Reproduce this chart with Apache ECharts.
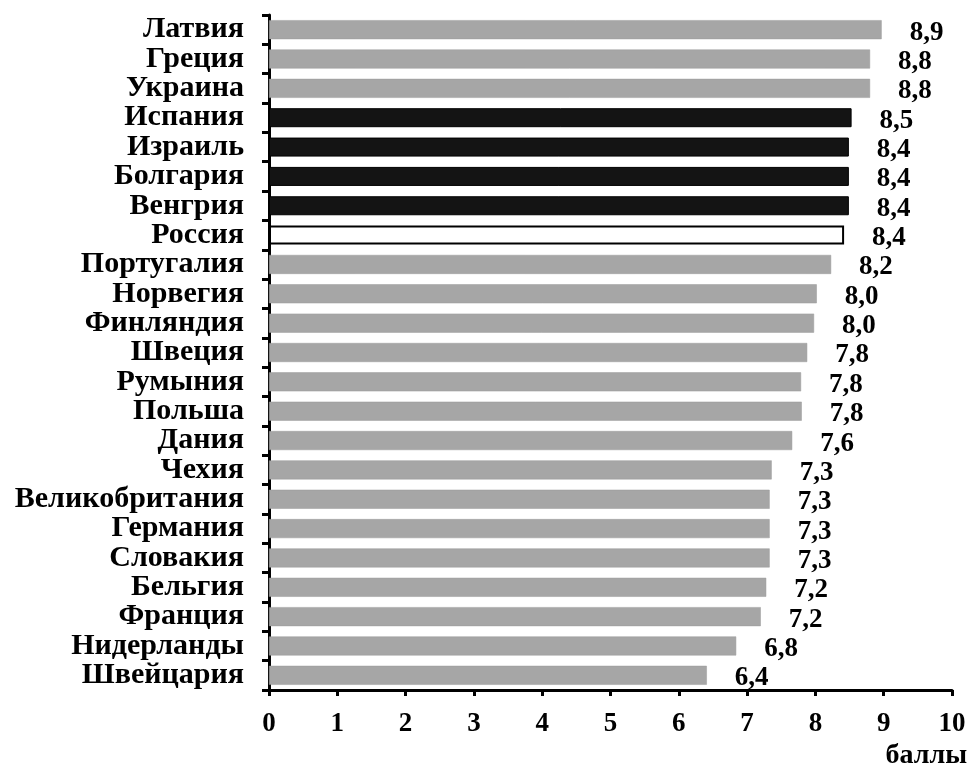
<!DOCTYPE html>
<html>
<head>
<meta charset="utf-8">
<script src="https://cdn.jsdelivr.net/npm/echarts@6/dist/echarts.min.js"></script>
<style>
html,body{margin:0;padding:0;background:#fff;}
#chart{width:974px;height:771px;}
</style>
</head>
<body>
<div id="chart"></div>
<script>
const categories = ['Латвия','Греция','Украина','Испания','Израиль','Болгария','Венгрия','Россия','Португалия','Норвегия','Финляндия','Швеция','Румыния','Польша','Дания','Чехия','Великобритания','Германия','Словакия','Бельгия','Франция','Нидерланды','Швейцария'];
const values = [8.97, 8.8, 8.8, 8.53, 8.49, 8.49, 8.49, 8.42, 8.23, 8.02, 7.98, 7.88, 7.79, 7.8, 7.66, 7.36, 7.33, 7.33, 7.33, 7.28, 7.2, 6.84, 6.41];
const valueLabels = ['8,9','8,8','8,8','8,5','8,4','8,4','8,4','8,4','8,2','8,0','8,0','7,8','7,8','7,8','7,6','7,3','7,3','7,3','7,3','7,2','7,2','6,8','6,4'];
const xTicks = [0,1,2,3,4,5,6,7,8,9,10];
const darkGroup = ['Испания','Израиль','Болгария','Венгрия'];
const whiteGroup = ['Россия'];
const unitLabel = 'баллы';

function styleFor(name){
  if (darkGroup.includes(name)) return {color:'#141414', borderColor:'#000', borderWidth:1};
  if (whiteGroup.includes(name)) return {color:'#ffffff', borderColor:'#000', borderWidth:2};
  return {color:'#a6a6a6', borderColor:'#9a9a9a', borderWidth:0.5};
}

const chart = echarts.init(document.getElementById('chart'), null, {renderer:'canvas'});
const serif = '"Liberation Serif", "DejaVu Serif", serif';
chart.setOption({
  animation:false,
  backgroundColor:'#fff',
  title:{
    text: unitLabel, right: 2, top: 737,
    textStyle:{fontFamily:serif, fontSize:28, fontWeight:'bold', color:'#000'}
  },
  grid:{left:269, right:22, top:15, bottom:81, containLabel:false},
  xAxis:{
    type:'value', min:xTicks[0], max:xTicks[xTicks.length-1], interval:1,
    axisLine:{show:true, lineStyle:{color:'#000', width:3}},
    axisTick:{show:true, length:6, lineStyle:{color:'#000', width:3}},
    splitLine:{show:false},
    axisLabel:{margin:21, fontFamily:serif, fontSize:27, fontWeight:'bold', color:'#000'}
  },
  yAxis:{
    type:'category', data:categories, inverse:true,
    axisLine:{show:true, lineStyle:{color:'#000', width:3}},
    axisTick:{show:true, length:7, interval:0, lineStyle:{color:'#000', width:3}},
    axisLabel:{interval:0, margin:25, fontFamily:serif, fontSize:30, fontWeight:'bold', color:'#000'}
  },
  series:[{
    type:'bar', barWidth:19,
    data: values.map((v,i)=>({value:v, itemStyle:styleFor(categories[i])})),
    label:{
      show:true, position:'right', distance:28, offset:[0,3],
      formatter:(p)=>valueLabels[p.dataIndex],
      fontFamily:serif, fontSize:27, fontWeight:'bold', color:'#000'
    }
  }]
});
</script>
</body>
</html>
